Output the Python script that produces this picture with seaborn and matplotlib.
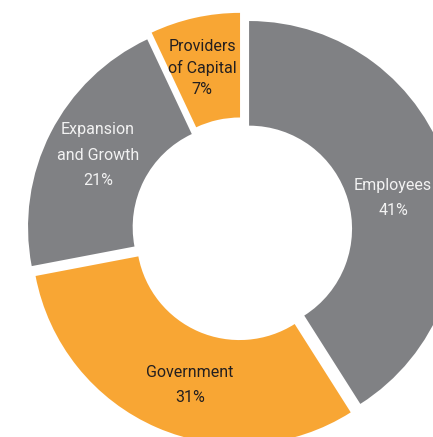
import matplotlib
matplotlib.use("Agg")
import matplotlib.pyplot as plt
import seaborn as sns

# 数据
categories = ["Employees", "Government", "Expansion\nand Growth", "Providers\nof Capital"]
shares = [41, 31, 21, 7]
colors = ["#808184", "#F8A634", "#808184", "#F8A634"]
text_colors = ["#F2F2F2", "#231F20", "#F2F2F2", "#231F20"]

# 布局：各扇区分离距离、标签位置（半径=1）
explode = [0.034, 0.034, 0.036, 0.05]
label_xy = [(0.726, 0.157), (-0.252, -0.745), (-0.695, 0.364), (-0.194, 0.783)]
line_gap = [1.85, 1.85, 1.85, 1.45]

sns.set_theme(style="white")
plt.rcParams['font.family'] = ['Roboto', 'Liberation Sans', 'DejaVu Sans']

fig = plt.figure(figsize=(4.33, 4.37), dpi=100)
ax = fig.add_axes([0, 0, 1, 1])

# 环形图
wedges, _ = ax.pie(
    shares,
    colors=colors,
    explode=explode,
    startangle=90,
    counterclock=False,
    radius=1.0,
    wedgeprops=dict(width=0.504, linewidth=0),
)

for (x, y), cat, val, tc, ls in zip(label_xy, categories, shares, text_colors, line_gap):
    ax.text(x, y, f"{cat}\n{val}%", ha="center", va="center",
            fontsize=11.5, color=tc, linespacing=ls)

# 图形在右侧和底部被裁切
s = 207.6
cx, cy = 242.3, 230.6
ax.set_xlim(-cx / s, (433 - cx) / s)
ax.set_ylim(-(437 - cy) / s, cy / s)
ax.set_aspect("auto")
ax.axis("off")

plt.savefig("out.png", dpi=100)
